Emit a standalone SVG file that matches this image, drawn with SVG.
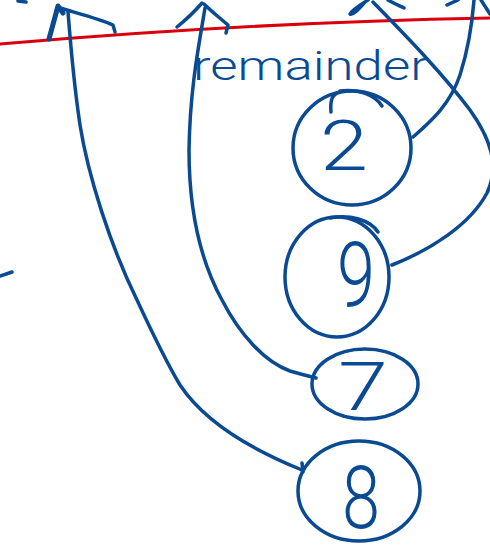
<svg xmlns="http://www.w3.org/2000/svg" width="490" height="551" viewBox="0 0 490 551">
  <style>
    .ink { fill: none; stroke: #0A4A93; stroke-width: 3.5; stroke-linecap: round; stroke-linejoin: round; }
    .red { fill: none; stroke: #D8000C; stroke-width: 3.2; stroke-linecap: round; }
    .digit { font-family: "Roboto", "Liberation Sans", sans-serif; font-weight: 300; fill: #0A4A93; text-anchor: middle; }
    .label { font-family: "Roboto", "Liberation Sans", sans-serif; font-weight: 300; fill: #0A4A93; font-size: 40px; }
  </style>
  <rect width="490" height="551" fill="#FFFFFF"/>

  <!-- red line -->
  <path class="red" d="M0,44 C150,31 330,21 490,18"/>

  <g id="connectors">
    <!-- arrow to 8 -->
    <path class="ink" d="M68,12 C71,50 74,85 80,125 C88,175 110,245 137,300 C150,328 165,360 180,385 C200,415 240,445 302,470"/>
    <path class="ink" d="M302,463 L303,472"/>
    <path class="ink" d="M49,39 L58,6 L63,13" style="stroke-width:5"/>
    <path class="ink" d="M60,8 C80,14 100,19 113,25 L115,32"/>
    <!-- arrow to 7 -->
    <path class="ink" d="M205,8 C198,50 190,90 189,150 C189,210 200,260 222,300 C240,335 265,362 290,371 C300,374 308,376 316,378"/>
    <path class="ink" d="M177,27 C188,18 196,10 202,3 M204,4 C212,12 220,18 228,25 L226,33"/>
    <!-- arrow from 2 -->
    <path class="ink" d="M413,137 C430,122 450,105 460,75 C468,50 472,25 474,0"/>
    <path class="ink" d="M447,5 L458,0 M481,0 L490,14"/>
    <!-- arrow from 9 -->
    <path class="ink" d="M373,2 C400,30 440,70 470,110 C490,138 500,165 487,193 C470,225 430,250 392,265"/>
    <path class="ink" d="M368,0 C360,5 352,10 350,14 C352,16 358,10 365,2 M388,0 C395,4 400,6 404,8"/>
    <!-- stray marks -->
    <path class="ink" d="M18,1 L26,2"/>
    <path class="ink" d="M0,276 L12,272"/>
  </g>

  <text class="label" x="193" y="80" textLength="235" lengthAdjust="spacingAndGlyphs">remainder</text>

  <g id="node-2">
    <ellipse class="ink" cx="352" cy="148" rx="59" ry="57"/>
    <path class="ink" d="M331,112 C330,100 332,94 340,92 M340,91 C360,89 375,95 382,106"/>
    <text class="digit" x="344" y="170" font-size="70" textLength="48" lengthAdjust="spacingAndGlyphs">2</text>
  </g>
  <g id="node-9">
    <ellipse class="ink" cx="337" cy="277" rx="52" ry="60"/>
    <path class="ink" d="M330,218 C350,214 370,220 378,232"/>
    <text class="digit" x="356" y="307" font-size="90" textLength="38" lengthAdjust="spacingAndGlyphs">9</text>
  </g>
  <g id="node-7">
    <ellipse class="ink" cx="365" cy="384" rx="53" ry="35"/>
    <text class="digit" x="363" y="410" font-size="67" textLength="50" lengthAdjust="spacingAndGlyphs">7</text>
  </g>
  <g id="node-8">
    <ellipse class="ink" cx="359" cy="491" rx="61" ry="50"/>
    <text class="digit" x="361" y="528" font-size="88" textLength="38" lengthAdjust="spacingAndGlyphs">8</text>
  </g>
</svg>
